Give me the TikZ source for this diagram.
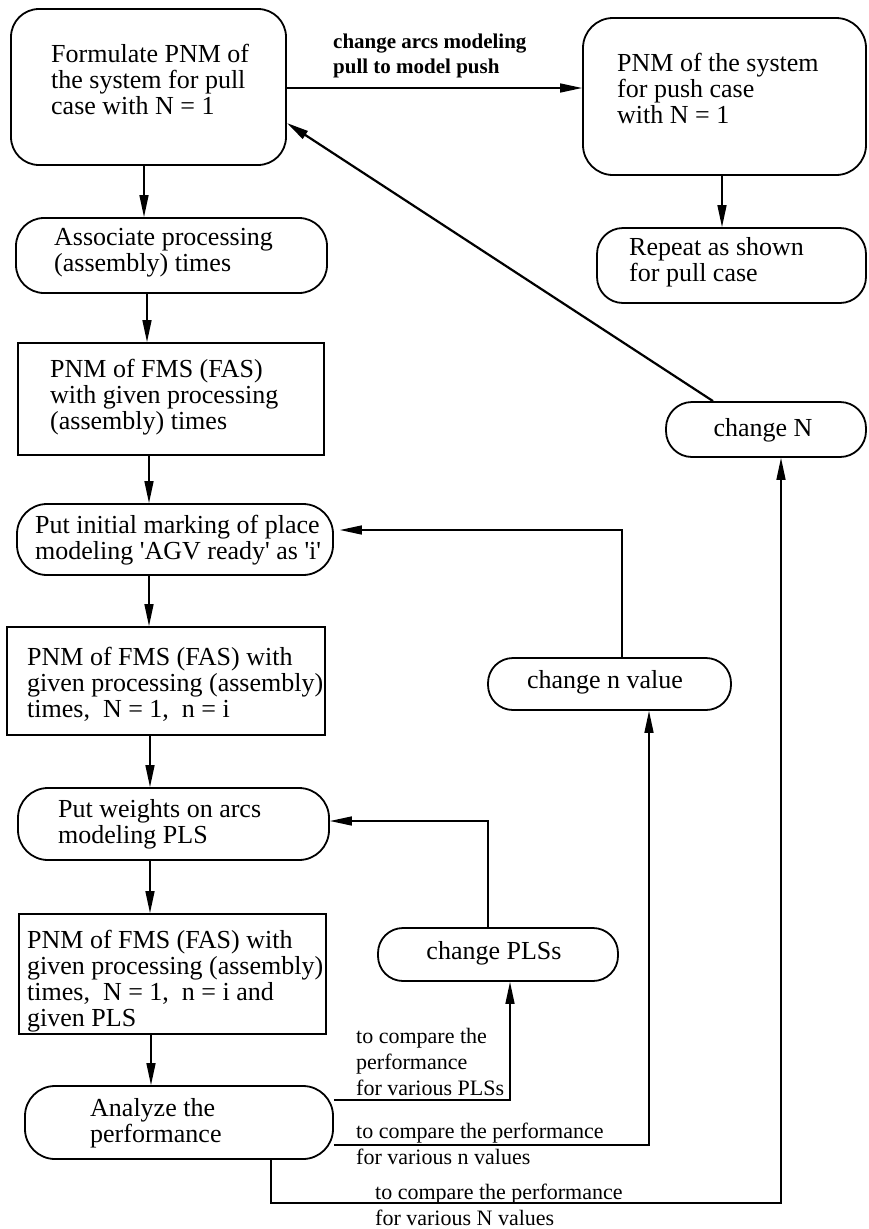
\documentclass[tikz,border=0pt]{standalone}
\usepackage{fontspec}
\setmainfont{Liberation Serif}
\usetikzlibrary{arrows.meta}

% straight single quote, taken directly from the font's glyph table
\newcommand\sq{\XeTeXglyph\XeTeXcharglyph"27\relax}

\tikzset{
  box/.style={draw, line width=1.8pt, inner sep=0pt},
  rbox/.style={box, rounded corners=#1},
  txt/.style={font=\fontsize{26}{26}\selectfont, align=left, inner sep=0pt},
  lbl/.style={font=\fontsize{22}{26}\selectfont, align=left, inner sep=0pt},
  flow/.style={line width=1.5pt, -{Stealth[length=22pt,width=9pt,inset=0pt]}},
}

\begin{document}
\begin{tikzpicture}[x=1pt, y=-1pt]
\useasboundingbox (0,0) rectangle (869,1229);

% ---- boxes ----
\node[rbox=28pt, minimum width=275pt, minimum height=156pt] (form)    at (148.5,87)   {};
\node[rbox=30pt, minimum width=283pt, minimum height=157pt] (push)    at (724.5,96.5) {};
\node[rbox=26pt, minimum width=269pt, minimum height=75pt]  (repeat)  at (731.5,265.5){};
\node[rbox=28pt, minimum width=311pt, minimum height=75pt]  (assoc)   at (171.5,255.5){};
\node[box,       minimum width=306pt, minimum height=112pt] (pnmA)    at (171,399)    {};
\node[rbox=30pt, minimum width=316pt, minimum height=71pt]  (init)    at (175,539.5)  {};
\node[box,       minimum width=318pt, minimum height=108pt] (pnmB)    at (166,681)    {};
\node[rbox=30pt, minimum width=311pt, minimum height=72pt]  (weights) at (173.5,824)  {};
\node[box,       minimum width=307pt, minimum height=120pt] (pnmC)    at (172.5,974)  {};
\node[rbox=30pt, minimum width=308pt, minimum height=73pt]  (analyze) at (179,1122.5) {};
\node[rbox=25pt, minimum width=240pt, minimum height=53pt]  (plss)    at (498,954.5)  {};
\node[rbox=25pt, minimum width=243pt, minimum height=52pt]  (nval)    at (609.5,684)  {};
\node[rbox=26pt, minimum width=200pt, minimum height=55pt]  (chN)     at (766,429.5)  {};

% ---- box texts ----
\node[txt, anchor=west] (tform)    at (51,79)    {Formulate PNM of\\the system for pull\\case with N = 1};
\node[txt, anchor=west] (tpush)    at (617,88)   {PNM of the system\\for push case\\with N = 1};
\node[txt, anchor=west] (trepeat)  at (629,262.5){Repeat as shown\\for pull case};
\node[txt, anchor=west] (tassoc)   at (54,252.5) {Associate processing\\(assembly) times};
\node[txt, anchor=west] (tpnmA)    at (50,397)   {PNM of FMS (FAS)\\with given processing\\(assembly) times};
\node[txt, anchor=west] (tinit)    at (35,540)   {Put initial marking of place\\modeling \sq AGV ready\sq{} as \sq i\sq};
\node[txt, anchor=west] (tpnmB)    at (27,684)   {PNM of FMS (FAS) with\\given processing (assembly)\\times,\ \ N = 1,\ \ n = i};
\node[txt, anchor=west] (tweights) at (58,824.5) {Put weights on arcs\\modeling PLS};
\node[txt, anchor=west] (tpnmC)    at (27,981)   {PNM of FMS (FAS) with\\given processing (assembly)\\times,\ \ N = 1,\ \ n = i and\\given PLS};
\node[txt, anchor=west] (tanalyze) at (90,1123)  {Analyze the\\performance};
\node[txt] (tplss) at (494,953) {change PLSs};
\node[txt] (tnval) at (605,682) {change n value};
\node[txt] (tchN)  at (763,430) {change N};

% ---- connector labels ----
\node[lbl, anchor=west, font=\fontsize{21}{25}\selectfont\bfseries] (lpush) at (333,55.5) {change arcs modeling\\pull to model push};
\node[lbl, anchor=west] (lplss) at (356,1062)   {to compare the\\performance\\for various PLSs};
\node[lbl, anchor=west] (lnval) at (356,1143.5) {to compare the performance\\for various n values};
\node[lbl, anchor=west] (lchN)  at (375,1204.5) {to compare the performance\\for various N values};

% ---- guide coordinates for connector routes ----
\coordinate (xa) at (144,0);
\coordinate (xb) at (722,0);
\coordinate (xc) at (147,0);
\coordinate (xd) at (149,0);
\coordinate (xe) at (150,0);
\coordinate (xf) at (151,0);
\coordinate (xg) at (510,0);
\coordinate (xh) at (649,0);
\coordinate (xi) at (271,0);
\coordinate (xj) at (781,0);
\coordinate (xk) at (488,0);
\coordinate (xl) at (622,0);
\coordinate (xm) at (713,0);
\coordinate (ya) at (0,88);
\coordinate (yb) at (0,1100);
\coordinate (yc) at (0,1145);
\coordinate (yd) at (0,1203);
\coordinate (ye) at (0,821);
\coordinate (yf) at (0,530);
\coordinate (yg) at (0,123);

% ---- main flow ----
\draw[flow] (form.east |- ya) -- (push.west |- ya);
\draw[flow] (form.south -| xa) -- (assoc.north -| xa);
\draw[flow] (push.south -| xb) -- (repeat.north -| xb);
\draw[flow] (assoc.south -| xc) -- (pnmA.north -| xc);
\draw[flow] (pnmA.south -| xd) -- (init.north -| xd);
\draw[flow] (init.south -| xd) -- (pnmB.north -| xd);
\draw[flow] (pnmB.south -| xe) -- (weights.north -| xe);
\draw[flow] (weights.south -| xe) -- (pnmC.north -| xe);
\draw[flow] (pnmC.south -| xf) -- (analyze.north -| xf);

% ---- feedback loops ----
\draw[flow] (analyze.east |- yb) -| (plss.south -| xg);
\draw[flow] (analyze.east |- yc) -| (nval.south -| xh);
\draw[flow] (analyze.south -| xi) -- (xi |- yd) -- (xj |- yd) -- (chN.south -| xj);
\draw[flow] (plss.north -| xk) |- (weights.east |- ye);
\draw[flow, shorten >=6pt] (nval.north -| xl) |- (init.east |- yf);
\draw[flow, line width=2.2pt] (chN.north -| xm) -- (form.east |- yg);
\end{tikzpicture}
\end{document}
